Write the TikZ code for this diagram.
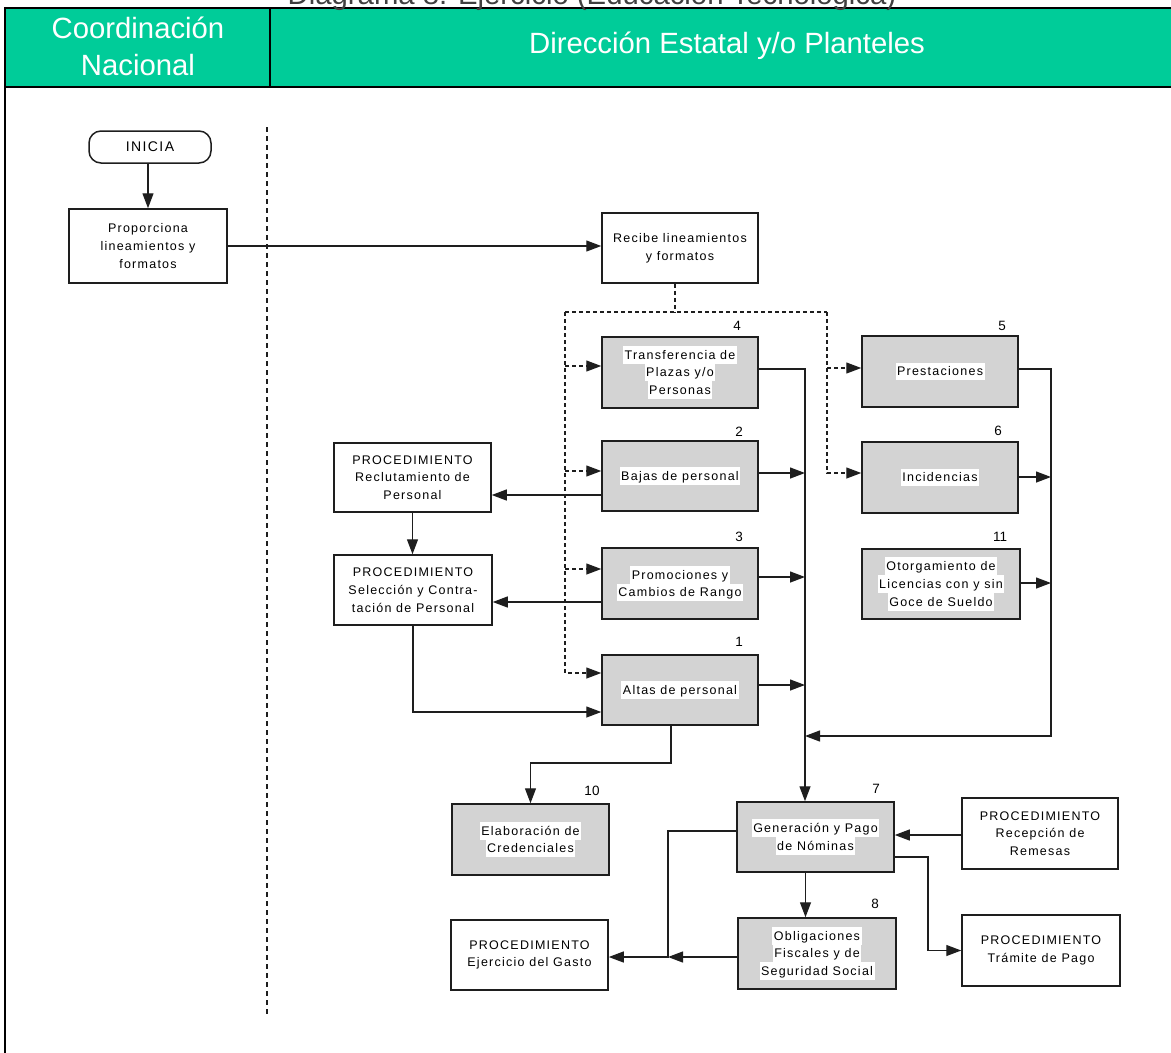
\documentclass[tikz,border=0pt]{standalone}
\usepackage{fontspec}
\setmainfont{Liberation Sans}
\newfontfamily\boxfont[LetterSpace=10]{Liberation Sans}
\usetikzlibrary{arrows.meta,calc}
\definecolor{hdrgreen}{RGB}{0,204,153}
\definecolor{boxgray}{RGB}{211,211,211}
\definecolor{ink}{RGB}{30,30,30}
\setlength\fboxsep{0pt}
\newcommand\wl[1]{\colorbox{white}{\rule[-4.4pt]{0pt}{17.7pt}\kern1.5pt#1\kern1.5pt}}
\begin{document}
\begin{tikzpicture}[x=1pt,y=-1pt,
  box/.style={draw=ink, line width=1.5pt, minimum width=156pt, minimum height=70pt, inner sep=0pt, align=center, font=\boxfont\fontsize{12.5}{17.7}\selectfont},
  gbox/.style={box, fill=boxgray},
  num/.style={font=\fontsize{13.5}{15}\selectfont, inner sep=0pt},
  conn/.style={draw=ink, line width=1.3pt},
  arr/.style={conn, -{Triangle[length=15pt,width=11pt]}},
  dsh/.style={conn, dash pattern=on 4pt off 3pt},
  hdr/.style={font=\fontsize{29.3}{37}\selectfont, text=white, align=center, inner sep=0pt}
]
\useasboundingbox (0,0) rectangle (1171,1053);
% header
\fill[hdrgreen] (5,8) rectangle (1180,87);
\draw[black, line width=2.2pt] (1180,8) -- (5,8) -- (5,1060);
\draw[black, line width=2.2pt] (5,87) -- (1180,87);
\draw[black, line width=1.6pt] (270,8) -- (270,87);
\node[anchor=base, font=\fontsize{29.3}{30}\selectfont, text=black!75, inner sep=0pt] (title) at (592,4.5) {Diagrama 8. Ejercicio (Educación Tecnológica)};
\node[hdr] (hc) at (138,46.5) {Coordinación\\Nacional};
\node[hdr] (hd) at (727,46) {Dirección Estatal y/o Planteles};
% lane separator
\draw[ink, line width=1.2pt, dash pattern=on 5pt off 4pt] (267,127) -- (267,1015);

% nodes
\node[box, rounded corners=12pt, minimum width=122pt, minimum height=32pt, font=\boxfont\fontsize{14}{17}\selectfont] (inicia) at (150,147) {INICIA};
\node[box, minimum width=158pt, minimum height=74pt] (prop) at (148,246) {Proporciona\\lineamientos y\\formatos};
\node[box] (recibe) at (680,248) {Recibe lineamientos\\y formatos};
\node[gbox, minimum height=71pt] (t4) at (680,372.5) {\wl{Transferencia de}\\\wl{Plazas y/o}\\\wl{Personas}};
\node[gbox] (b2) at (680,476) {\wl{Bajas de personal}};
\node[gbox, minimum height=71pt] (p3) at (680,583.5) {\wl{Promociones y}\\\wl{Cambios de Rango}};
\node[gbox] (a1) at (680,690) {\wl{Altas de personal}};
\node[box, minimum width=157pt, minimum height=69pt] (recl) at (412.5,477.5) {PROCEDIMIENTO\\Reclutamiento de\\Personal};
\node[box, minimum width=158pt] (sel) at (413,590) {PROCEDIMIENTO\\Selección y Contra-\\tación de Personal};
\node[gbox, minimum width=157pt, minimum height=71pt] (elab) at (530.5,839.5) {\wl{Elaboración de}\\\wl{Credenciales}};
\node[gbox, minimum height=71pt] (pres) at (940,371.5) {\wl{Prestaciones}};
\node[gbox, minimum height=71pt] (inc) at (940,477.5) {\wl{Incidencias}};
\node[gbox, minimum width=158pt] (oto) at (941,584) {\wl{Otorgamiento de}\\\wl{Licencias con y sin}\\\wl{Goce de Sueldo}};
\node[gbox, minimum width=157pt] (gen) at (815.5,837) {\wl{Generación y Pago}\\\wl{de Nóminas}};
\node[box, minimum height=71pt] (recep) at (1040,833.5) {PROCEDIMIENTO\\Recepción de\\Remesas};
\node[box, minimum width=158pt, minimum height=71pt] (tram) at (1041,950.5) {PROCEDIMIENTO\\Trámite de Pago};
\node[gbox, minimum width=158pt, minimum height=71pt] (obl) at (817,953.5) {\wl{Obligaciones}\\\wl{Fiscales y de}\\\wl{Seguridad Social}};
\node[box, minimum width=157pt] (ejer) at (529.5,955) {PROCEDIMIENTO\\Ejercicio del Gasto};

% numbers
\node[num] (n4) at (737,326) {4};
\node[num] (n2) at (739,432) {2};
\node[num] (n3) at (739,537) {3};
\node[num] (n1) at (739,642) {1};
\node[num] (n5) at (1002,326) {5};
\node[num] (n6) at (998,431) {6};
\node[num] (n11) at (1000,537) {11};
\node[num] (n10) at (592,791) {10};
\node[num] (n7) at (876,789) {7};
\node[num] (n8) at (875,904) {8};

% helper coordinates
\coordinate (dl) at (565,312);
\coordinate (dr) at (827,312);
\coordinate (rs) at ($(recibe.south)+(-5,0)$);
\coordinate (t4in) at ($(t4.west)+(0,-6.5)$);
\coordinate (b2in) at ($(b2.west)+(0,-5)$);
\coordinate (p3in) at ($(p3.west)+(0,-14.5)$);
\coordinate (a1in) at ($(a1.west)+(0,-17)$);
\coordinate (presin) at ($(pres.west)+(0,-3.5)$);
\coordinate (incin) at ($(inc.west)+(0,-4.5)$);
\coordinate (bus) at (805,0);
\coordinate (rbus) at (1051,0);
\coordinate (t4out) at ($(t4.east)+(0,-3.5)$);
\coordinate (b2out) at ($(b2.east)+(0,-3)$);
\coordinate (p3out) at ($(p3.east)+(0,-6.5)$);
\coordinate (a1out) at ($(a1.east)+(0,-5)$);
\coordinate (b2lo) at ($(b2.west)+(0,19)$);
\coordinate (p3lo) at ($(p3.west)+(0,18.5)$);
\coordinate (a1lo) at ($(a1.west)+(0,22)$);
\coordinate (a1bot) at ($(a1.south)+(-9,0)$);
\coordinate (k1) at (0,763);
\coordinate (k2) at (0,736);
\coordinate (presout) at ($(pres.east)+(0,-2.5)$);
\coordinate (incout) at ($(inc.east)+(0,-0.5)$);
\coordinate (otoout) at ($(oto.east)+(0,-1)$);
\coordinate (recepin) at ($(recep.west)+(0,1.5)$);
\coordinate (genout) at ($(gen.east)+(0,20)$);
\coordinate (k3) at (928,0);
\coordinate (genbot) at ($(gen.south)+(-10,0)$);
\coordinate (oblout) at ($(obl.west)+(0,3.5)$);
\coordinate (jx) at (668,0);
\coordinate (genw) at ($(gen.west)+(0,-6)$);

% connectors
\draw[arr] (inicia.south -| prop.north) -- (prop.north);
\draw[arr] (prop.east) -- (prop.east -| recibe.west);
\draw[dsh] (rs) -- (rs |- dl);
\draw[dsh] (dl) -- (dr);
\draw[dsh,arr] (dl |- t4in) -- (t4in);
\draw[dsh,arr] (dl |- b2in) -- (b2in);
\draw[dsh,arr] (dl |- p3in) -- (p3in);
\draw[dsh,arr] (dl) |- (a1in);
\draw[dsh,arr] (dr |- presin) -- (presin);
\draw[dsh,arr] (dr) |- (incin);

\draw[arr] (t4out) -| (bus |- gen.north);
\draw[arr] (b2out) -- (bus |- b2out);
\draw[arr] (p3out) -- (bus |- p3out);
\draw[arr] (a1out) -- (bus |- a1out);
\draw[arr] (b2lo) -- (recl.east |- b2lo);
\draw[arr] (p3lo) -- (sel.east |- p3lo);
\draw[arr] (recl.south) -- (recl.south |- sel.north);
\draw[arr] (sel.south) |- (a1lo);
\draw[arr] (a1bot) -- (a1bot |- k1) -| (elab.north);

\draw[arr] (presout) -| (rbus |- k2) -- (bus |- k2);
\draw[arr] (incout) -- (rbus |- incout);
\draw[arr] (otoout) -- (rbus |- otoout);

\draw[arr] (recepin) -- (gen.east |- recepin);
\draw[arr] (genout) -| (k3 |- tram.west) -- (tram.west);
\draw[arr] (genbot) -- (genbot |- obl.north);
\draw[arr] (oblout) -- (jx |- oblout);
\draw[arr] (genw) -| (jx |- oblout) -- (ejer.east |- oblout);
\end{tikzpicture}
\end{document}
